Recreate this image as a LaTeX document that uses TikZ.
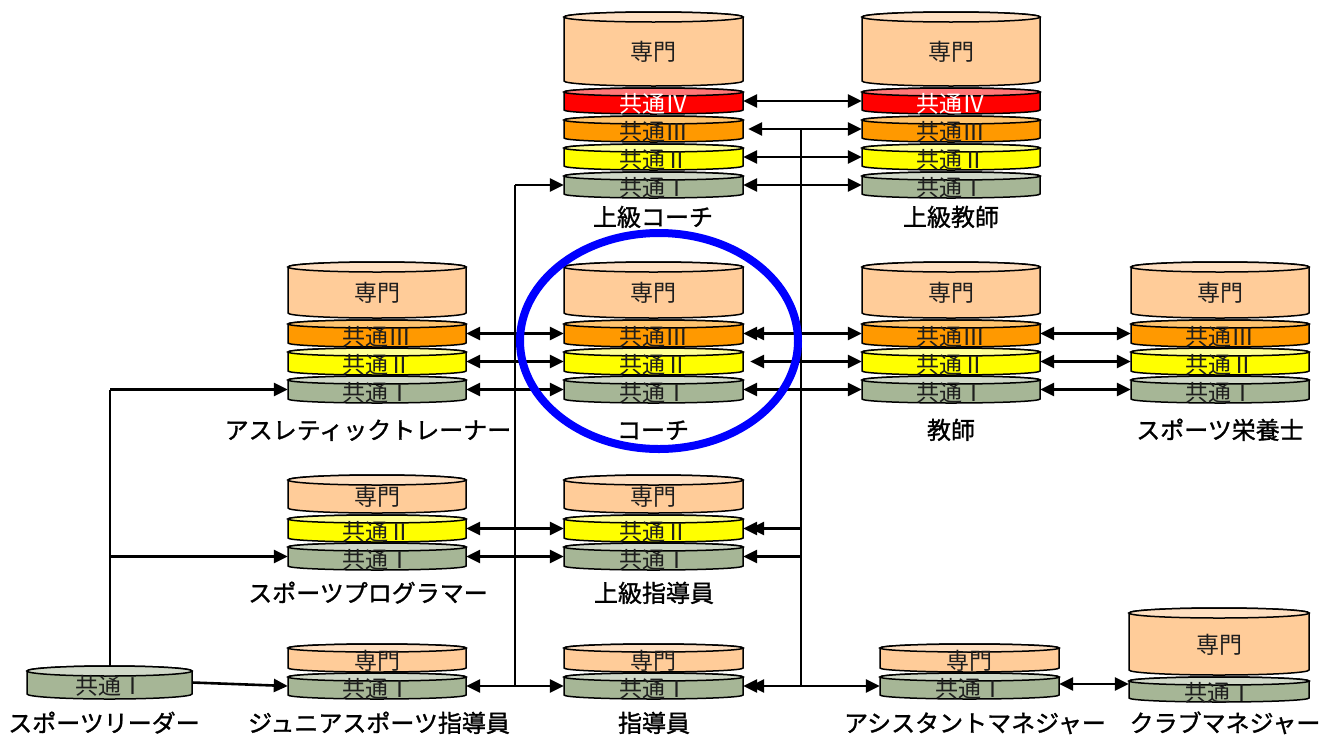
\documentclass[tikz,border=0pt]{standalone}
\usepackage{fontspec}
\usepackage{graphicx}
\usetikzlibrary{arrows.meta}
\newfontfamily\jp{Noto Sans CJK JP}
\newfontfamily\jpfw{Noto Sans CJK JP}[RawFeature=+fwid]
\newfontfamily\jpb{Noto Sans CJK JP}[FakeBold=1.2]
\newcommand\layfont{\jp\fontsize{23pt}{26pt}\selectfont}
\newcommand\labfont{\jpb\fontsize{24pt}{28pt}\selectfont}
\newsavebox\rnbox
\newcommand\rn[1]{\sbox\rnbox{\jpfw #1}\ifdim\wd\rnbox<0.8em \makebox[1em][c]{\scalebox{1.35}[1]{\usebox\rnbox}}\else\usebox\rnbox\fi}
\definecolor{smbody}{RGB}{255,204,153}
\definecolor{smtop}{RGB}{255,224,194}
\definecolor{c4body}{RGB}{255,0,0}
\definecolor{c4top}{RGB}{255,120,120}
\definecolor{c3body}{RGB}{255,153,0}
\definecolor{c3top}{RGB}{255,196,110}
\definecolor{c2body}{RGB}{255,255,0}
\definecolor{c2top}{RGB}{255,255,150}
\definecolor{c1body}{RGB}{166,182,150}
\definecolor{c1top}{RGB}{208,216,200}
\definecolor{txtgray}{RGB}{30,30,30}
\definecolor{ringblue}{RGB}{0,0,255}
\pgfdeclarelayer{bg}
\pgfsetlayers{bg,main}
\tikzset{
  cylline/.style={draw=black, line width=1.5pt},
  lay/.style={inner sep=0pt, text height=24pt, text depth=0.6pt, font=\layfont, align=center},
  smtxt/.style={text=txtgray},
  c4txt/.style={text=white},
  c3txt/.style={text=txtgray},
  c2txt/.style={text=txtgray},
  c1txt/.style={text=txtgray},
  lab/.style={inner sep=0pt, text height=21pt, text depth=3pt, font=\labfont, text=black},
  tip/.tip={Triangle[length=14pt,width=13pt]},
  arr/.style={line width=2.6pt, -tip},
  dbl/.style={line width=2.6pt, tip-tip},
  vline/.style={line width=2.8pt},
  ring/.style={draw=ringblue, line width=8pt}
}
% #1 name, #2 left, #3 right, #4 top centre, #5 bottom centre, #6 colour prefix, #7 text, #8 ellipse y radius
\newcommand\cyl[8]{%
  \pgfmathsetmacro\cylcx{(#2+#3)/2}%
  \pgfmathsetmacro\cylrx{(#3-#2)/2}%
  \pgfmathsetmacro\cylcy{(#4+#5)/2}%
  \pgfmathsetmacro\cylw{#3-#2}%
  \pgfmathsetmacro\cylh{#5-#4}%
  \filldraw[cylline, fill=#6body] (#2,#4) -- (#2,#5)
     arc[start angle=180, end angle=360, x radius=\cylrx pt, y radius=#8pt] -- (#3,#4)
     arc[start angle=0, end angle=180, x radius=\cylrx pt, y radius=#8pt] -- cycle;
  \filldraw[cylline, fill=#6top] (\cylcx,#4) ellipse[x radius=\cylrx pt, y radius=#8pt];
  \node[lay, #6txt, minimum width=\cylw pt, minimum height=\cylh pt] (#1) at (\cylcx,\cylcy) {#7};
}
\begin{document}
\begin{tikzpicture}[x=1pt,y=-1pt]
\useasboundingbox (0,0) rectangle (1324,734);

% ---- upper coach
\cyl{ucS}{564}{743}{17}{81}{sm}{専門}{5}
\cyl{ucIV}{564}{743}{92}{110}{c4}{共通\rn{Ⅳ}}{4}
\cyl{ucIII}{564}{743}{120}{138}{c3}{共通\rn{Ⅲ}}{4}
\cyl{ucII}{564}{743}{148}{166}{c2}{共通\rn{Ⅱ}}{4}
\cyl{ucI}{564}{743}{176}{194}{c1}{共通\rn{Ⅰ}}{4}
% ---- upper teacher
\cyl{utS}{862}{1040}{17}{81}{sm}{専門}{5}
\cyl{utIV}{862}{1040}{92}{110}{c4}{共通\rn{Ⅳ}}{4}
\cyl{utIII}{862}{1040}{120}{138}{c3}{共通\rn{Ⅲ}}{4}
\cyl{utII}{862}{1040}{148}{166}{c2}{共通\rn{Ⅱ}}{4}
\cyl{utI}{862}{1040}{176}{194}{c1}{共通\rn{Ⅰ}}{4}
% ---- athletic trainer
\cyl{atS}{288}{466}{267}{313}{sm}{専門}{5}
\cyl{atIII}{288}{466}{324}{343}{c3}{共通\rn{Ⅲ}}{4}
\cyl{atII}{288}{466}{352}{371}{c2}{共通\rn{Ⅱ}}{4}
\cyl{atI}{288}{466}{380}{399}{c1}{共通\rn{Ⅰ}}{4}
% ---- coach
\cyl{coS}{564}{743}{267}{313}{sm}{専門}{5}
\cyl{coIII}{564}{743}{324}{343}{c3}{共通\rn{Ⅲ}}{4}
\cyl{coII}{564}{743}{352}{371}{c2}{共通\rn{Ⅱ}}{4}
\cyl{coI}{564}{743}{380}{399}{c1}{共通\rn{Ⅰ}}{4}
% ---- teacher
\cyl{teS}{862}{1040}{267}{313}{sm}{専門}{5}
\cyl{teIII}{862}{1040}{324}{343}{c3}{共通\rn{Ⅲ}}{4}
\cyl{teII}{862}{1040}{352}{371}{c2}{共通\rn{Ⅱ}}{4}
\cyl{teI}{862}{1040}{380}{399}{c1}{共通\rn{Ⅰ}}{4}
% ---- sports nutritionist
\cyl{nuS}{1131}{1309}{267}{313}{sm}{専門}{5}
\cyl{nuIII}{1131}{1309}{324}{343}{c3}{共通\rn{Ⅲ}}{4}
\cyl{nuII}{1131}{1309}{352}{371}{c2}{共通\rn{Ⅱ}}{4}
\cyl{nuI}{1131}{1309}{380}{399}{c1}{共通\rn{Ⅰ}}{4}
% ---- sports programmer
\cyl{prS}{288}{466}{480}{508}{sm}{専門}{5}
\cyl{prII}{288}{466}{519}{538}{c2}{共通\rn{Ⅱ}}{4}
\cyl{prI}{288}{466}{547}{566}{c1}{共通\rn{Ⅰ}}{4}
% ---- senior instructor
\cyl{siS}{564}{743}{480}{508}{sm}{専門}{5}
\cyl{siII}{564}{743}{519}{538}{c2}{共通\rn{Ⅱ}}{4}
\cyl{siI}{564}{743}{547}{566}{c1}{共通\rn{Ⅰ}}{4}
% ---- junior sports instructor
\cyl{jrS}{288}{466}{648}{668}{sm}{専門}{4}
\cyl{jrI}{288}{466}{677}{695}{c1}{共通\rn{Ⅰ}}{4}
% ---- instructor
\cyl{inS}{564}{743}{648}{668}{sm}{専門}{4}
\cyl{inI}{564}{743}{677}{695}{c1}{共通\rn{Ⅰ}}{4}
% ---- assistant manager
\cyl{amS}{880}{1059}{648}{668}{sm}{専門}{4}
\cyl{amI}{880}{1059}{677}{695}{c1}{共通\rn{Ⅰ}}{4}
% ---- club manager
\cyl{clS}{1129}{1309}{613}{670}{sm}{専門}{5}
\cyl{clI}{1129}{1309}{681}{698}{c1}{共通\rn{Ⅰ}}{4}
% ---- sports leader
\cyl{slI}{27}{192}{671}{694}{c1}{共通\rn{Ⅰ}}{5}

% ---- labels
\node[lab] (lucoach) at (653,217) {上級コーチ};
\node[lab] (luteach) at (951,217) {上級教師};
\node[lab] (lath) at (368,430) {アスレティックトレーナー};
\node[lab] (lcoach) at (653,430) {コーチ};
\node[lab] (lteach) at (951,430) {教師};
\node[lab] (lnutr) at (1220,430) {スポーツ栄養士};
\node[lab] (lprog) at (368,593) {スポーツプログラマー};
\node[lab] (lsenior) at (654,593) {上級指導員};
\node[lab] (lleader) at (104,723) {スポーツリーダー};
\node[lab] (ljunior) at (379,723) {ジュニアスポーツ指導員};
\node[lab] (linstr) at (654,723) {指導員};
\node[lab] (lasm) at (975,723) {アシスタントマネジャー};
\node[lab] (lclub) at (1225,723) {クラブマネジャー};

% ---- trunk lines
\coordinate (xL) at (110,0);
\coordinate (xA) at (515,0);
\coordinate (xB) at (801,0);
\begin{pgfonlayer}{bg}
\draw[vline] (slI.center -| xL) -- (atI.west -| xL);
\end{pgfonlayer}
\draw[vline] (ucI.west -| xA) -- (jrI.east -| xA);
\draw[vline] (ucIII.east -| xB) -- (inI.east -| xB);

% ---- left trunk
\draw[arr] (atI.west -| xL) -- (atI.west);
\draw[arr] (prI.west -| xL) -- (prI.west);
\draw[arr] (slI.east) -- (jrI.west);

% ---- middle-left trunk
\draw[arr] (ucI.west -| xA) -- (ucI.west);
\draw[dbl] (atIII.east) -- (coIII.west);
\draw[dbl] (atII.east) -- (coII.west);
\draw[dbl] (atI.east) -- (coI.west);
\draw[dbl] (prII.east) -- (siII.west);
\draw[dbl] (prI.east) -- (siI.west);
\draw[dbl] (jrI.east) -- (inI.west);

% ---- middle-right trunk
\draw[dbl] (ucIV.east) -- (utIV.west);
\draw[arr] (ucIII.east -| xB) -- ([xshift=5pt]ucIII.east);
\draw[arr] (ucIII.east -| xB) -- (utIII.west);
\draw[dbl] (ucII.east) -- (utII.west);
\draw[dbl] (ucI.east) -- (utI.west);
\draw[dbl] (coIII.east) -- (teIII.west);
\draw[arr] (coIII.east -| xB) -- ([xshift=7pt]coIII.east);
\draw[arr] (coII.east -| xB) -- ([xshift=7pt]coII.east);
\draw[arr] (coII.east -| xB) -- (teII.west);
\draw[dbl] (coI.east) -- (teI.west);
\draw[arr] (siII.east -| xB) -- (siII.east);
\draw[arr] (siII.east -| xB) -- ([xshift=7pt]siII.east);
\draw[arr] (siI.east -| xB) -- (siI.east);
\draw[arr] (inI.east -| xB) -- (inI.east);
\draw[arr] (inI.east -| xB) -- ([xshift=7pt]inI.east);
\draw[arr] (inI.east -| xB) -- (amI.west);

% ---- right side
\draw[dbl] (teIII.east) -- (nuIII.west);
\draw[dbl] (teII.east) -- (nuII.west);
\draw[dbl] (teI.east) -- (nuI.west);
\coordinate (amR) at ([yshift=2pt]amI.east);
\draw[dbl] (amR) -- (clI.west |- amR);

% ---- highlight ring round the coach
\draw[ring] (659,341) ellipse[x radius=139pt, y radius=108pt];
\end{tikzpicture}
\end{document}
